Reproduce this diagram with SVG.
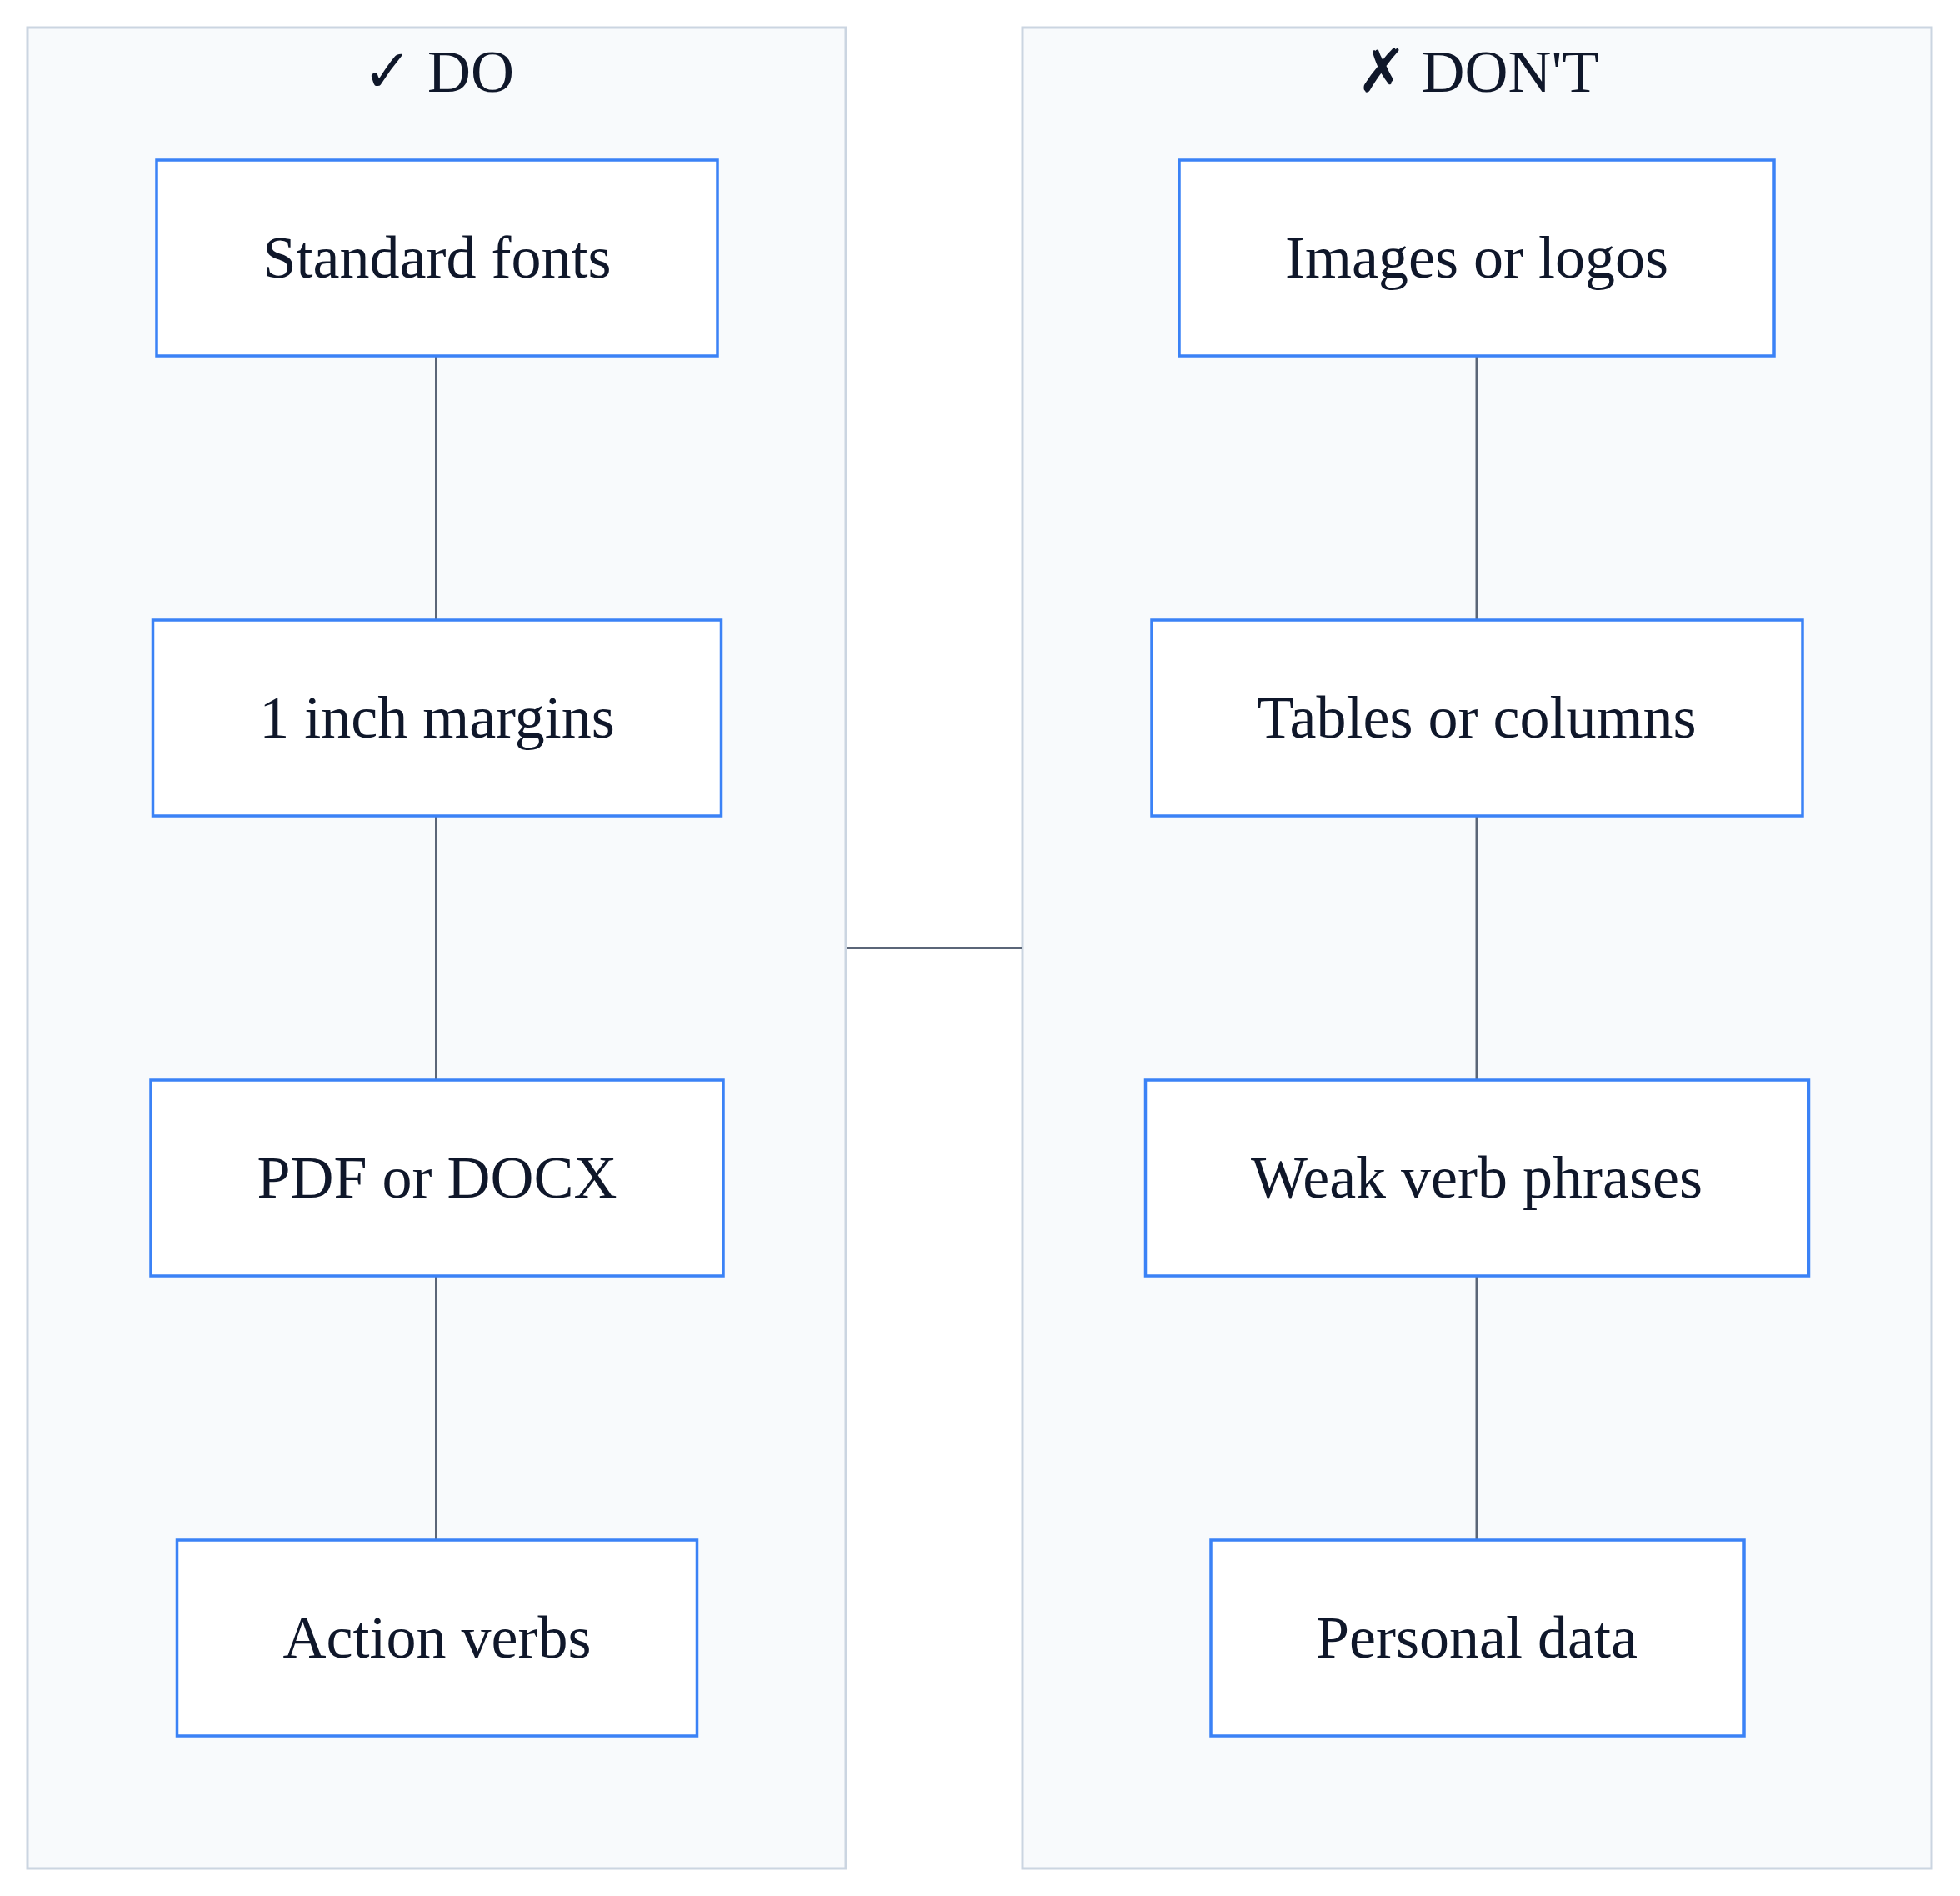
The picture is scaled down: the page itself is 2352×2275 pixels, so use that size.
<svg xmlns="http://www.w3.org/2000/svg" width="2352" height="2275" viewBox="0 0 2352 2275">
<style>
.panel{fill:#f8fafc;stroke:#cbd5e1;stroke-width:3}
.box{fill:#ffffff;stroke:#3b82f6;stroke-width:3.5}
.t{font-family:"Liberation Serif","Times New Roman",serif;font-size:72px;fill:#0f172a;text-anchor:middle}
.title{font-family:"Liberation Serif","DejaVu Serif",serif;font-size:72px;fill:#0f172a;text-anchor:middle}
.conn{stroke:#5b6678;stroke-width:3;fill:none}
</style>
<rect width="2352" height="2275" fill="#ffffff"/>
<g id="panel-do">
<rect class="panel" x="33" y="33" width="982" height="2209"/>
<text class="title" x="526" y="110">✓ DO</text>
</g>
<g id="panel-dont">
<rect class="panel" x="1227" y="33" width="1091" height="2209"/>
<text class="title" x="1773" y="110">✗ DON'T</text>
</g>
<g id="connectors">
<line class="conn" x1="523.5" y1="427" x2="523.5" y2="744"/>
<line class="conn" x1="523.5" y1="979" x2="523.5" y2="1296"/>
<line class="conn" x1="523.5" y1="1531" x2="523.5" y2="1848"/>
<line class="conn" x1="1772" y1="427" x2="1772" y2="744"/>
<line class="conn" x1="1772" y1="979" x2="1772" y2="1296"/>
<line class="conn" x1="1772" y1="1531" x2="1772" y2="1848"/>
<line class="conn" x1="1016" y1="1137.5" x2="1226" y2="1137.5"/>
</g>
<g id="n-standard-fonts">
<rect class="box" x="188" y="192" width="673" height="235"/>
<text class="t" x="524.5" y="333">Standard fonts</text>
</g>
<g id="n-margins">
<rect class="box" x="183.5" y="744" width="682" height="235"/>
<text class="t" x="524.5" y="885">1 inch margins</text>
</g>
<g id="n-pdf">
<rect class="box" x="181" y="1296" width="687" height="235"/>
<text class="t" x="524.5" y="1437">PDF or DOCX</text>
</g>
<g id="n-action">
<rect class="box" x="212.5" y="1848" width="624" height="235"/>
<text class="t" x="524.5" y="1989">Action verbs</text>
</g>
<g id="n-images">
<rect class="box" x="1415" y="192" width="714" height="235"/>
<text class="t" x="1772" y="333">Images or logos</text>
</g>
<g id="n-tables">
<rect class="box" x="1382" y="744" width="781" height="235"/>
<text class="t" x="1772" y="885">Tables or columns</text>
</g>
<g id="n-weak">
<rect class="box" x="1374.5" y="1296" width="796" height="235"/>
<text class="t" x="1772" y="1437">Weak verb phrases</text>
</g>
<g id="n-personal">
<rect class="box" x="1453" y="1848" width="640" height="235"/>
<text class="t" x="1772" y="1989">Personal data</text>
</g>
</svg>
